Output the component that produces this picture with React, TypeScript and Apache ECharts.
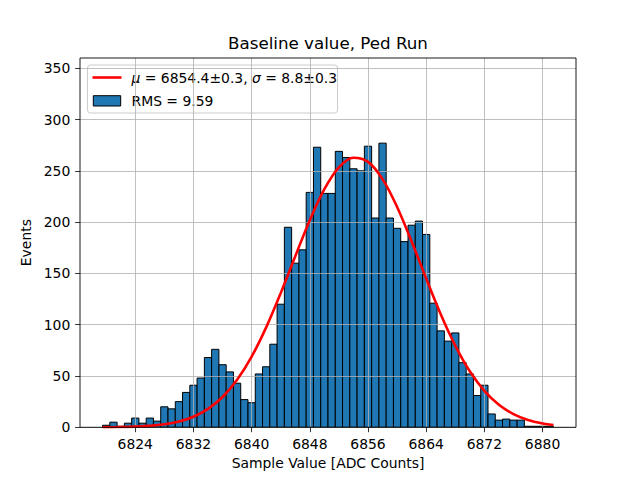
import React, { useEffect, useRef } from "react";
import * as echarts from "echarts";

// Histogram bins (centres, width 1 ADC count) and counts
const binCenters = [
  6820, 6821, 6822, 6823, 6824, 6825, 6826, 6827, 6828, 6829,
  6830, 6831, 6832, 6833, 6834, 6835, 6836, 6837, 6838, 6839,
  6840, 6841, 6842, 6843, 6844, 6845, 6846, 6847, 6848, 6849,
  6850, 6851, 6852, 6853, 6854, 6855, 6856, 6857, 6858, 6859,
  6860, 6861, 6862, 6863, 6864, 6865, 6866, 6867, 6868, 6869,
  6870, 6871, 6872, 6873, 6874, 6875, 6876, 6877, 6878, 6879,
  6880, 6881,
];
const counts = [
  2, 5, 1, 4, 9, 4, 9, 6, 20, 18,
  25, 34, 41, 48, 68, 76, 61, 54, 43, 27,
  24, 52, 59, 81, 120, 195, 160, 173, 229, 273,
  228, 228, 269, 263, 252, 250, 274, 204, 277, 204,
  194, 181, 197, 201, 188, 121, 94, 84, 92, 63,
  52, 31, 41, 13, 7, 8, 7, 7, 1, 1,
  1, 1,
];
const binHalfWidth = 0.5;

// Fit curve points
const fitX = [
  6819.5, 6820, 6822, 6824, 6826, 6828, 6830, 6832, 6834, 6836, 6838,
  6840, 6842, 6844, 6846, 6848, 6850, 6852, 6854, 6856, 6858,
  6860, 6862, 6864, 6866, 6868, 6870, 6872, 6874, 6876, 6878,
  6880, 6881.5,
];
const fitY = [
  0.1, 0.1, 0.3, 0.7, 1.4, 2.9, 5.6, 10.3, 17.9, 29.5, 46.3,
  68.9, 97.4, 130.8, 166.8, 201.9, 232.1, 253.4, 262.7, 258.7, 241.9,
  214.8, 181.1, 145.1, 110.3, 79.7, 54.6, 35.6, 22.0, 12.9, 7.2,
  3.8, 2.3,
];

const xTicks = [6824, 6832, 6840, 6848, 6856, 6864, 6872, 6880];
const yTicks = [0, 50, 100, 150, 200, 250, 300, 350];
const xRange = [6816.4, 6884.6];
const yRange = [0, 360];

const titleText = "Baseline value, Ped Run";
const xLabel = "Sample Value [ADC Counts]";
const yLabel = "Events";
const fitLegend = "{i|μ} = 6854.4±0.3, {i|σ} = 8.8±0.3";
const histLegend = "RMS = 9.59";

const FONT = "DejaVu Sans";
const GRID_COLOR = "#b0b0b0";

export default function App() {
  const ref = useRef<HTMLDivElement>(null);
  useEffect(() => {
    document.body.style.margin = "0";
    const chart = echarts.init(ref.current!, null, { renderer: "svg" });
    const histData = binCenters.map((c, i) => [c, counts[i]]);
    const fitData = fitX.map((x, i) => [x, fitY[i]]);
    chart.setOption({
      animation: false,
      backgroundColor: "#fff",
      grid: { left: 80, top: 58, width: 496, height: 369.3, show: false },
      xAxis: {
        type: "value",
        min: xRange[0],
        max: xRange[1],
        z: 3,
        name: xLabel,
        nameLocation: "middle",
        nameGap: 28,
        nameTextStyle: { fontFamily: FONT, fontSize: 13.9, color: "#000", verticalAlign: "top" },
        axisLine: { show: false },
        axisTick: {
          show: true,
          inside: false,
          length: 4.9,
          customValues: xTicks,
          lineStyle: { color: "#000", width: 0.8 },
        },
        axisLabel: {
          customValues: xTicks,
          margin: 9.7,
          fontFamily: FONT,
          fontSize: 13.9,
          color: "#000",
          formatter: (v: number) => String(v),
        },
        splitLine: { show: false },
      },
      yAxis: {
        type: "value",
        min: yRange[0],
        max: yRange[1],
        z: 3,
        name: yLabel,
        nameLocation: "middle",
        nameGap: 36,
        nameRotate: 90,
        nameTextStyle: { fontFamily: FONT, fontSize: 13.9, color: "#000" },
        axisLine: { show: false },
        axisTick: {
          show: true,
          inside: false,
          length: 4.9,
          customValues: yTicks,
          lineStyle: { color: "#000", width: 0.8 },
        },
        axisLabel: {
          customValues: yTicks,
          margin: 9.7,
          fontFamily: FONT,
          fontSize: 13.9,
          color: "#000",
        },
        splitLine: { show: true, lineStyle: { color: GRID_COLOR, width: 0.8 } },
      },
      series: [
        {
          type: "custom",
          name: histLegend,
          z: 2,
          data: histData,
          renderItem: (params: any, api: any) => {
            const c = api.value(0);
            const v = api.value(1);
            const p0 = api.coord([c - binHalfWidth, v]);
            const p1 = api.coord([c + binHalfWidth, 0]);
            return {
              type: "rect",
              shape: { x: p0[0], y: p0[1], width: p1[0] - p0[0], height: p1[1] - p0[1] },
              style: { fill: "#1f77b4", stroke: "#000", lineWidth: 1 },
            };
          },
          markLine: {
            silent: true,
            z: 3,
            symbol: ["none", "none"],
            label: { show: false },
            lineStyle: { color: GRID_COLOR, width: 0.8, type: "solid" },
            emphasis: { disabled: true },
            data: xTicks.map((t) => ({ xAxis: t })),
          },
        },
        {
          type: "line",
          name: "fit",
          z: 6,
          data: fitData,
          smooth: 0.35,
          showSymbol: false,
          symbol: "none",
          lineStyle: { color: "#ff0000", width: 2.6 },
        },
      ],
      graphic: [
        {
          type: "text",
          x: 328,
          y: 43.3,
          style: {
            text: titleText,
            fontFamily: FONT,
            fontSize: 16.7,
            fill: "#000",
            textAlign: "center",
            textVerticalAlign: "middle",
          },
        },
        {
          type: "rect",
          z: 10,
          shape: { x: 80, y: 58, width: 496, height: 369.3 },
          style: { fill: "none", stroke: "#000", lineWidth: 0.9 },
          silent: true,
        },
        {
          type: "group",
          z: 11,
          children: [
            {
              type: "rect",
              shape: { x: 87.5, y: 65, width: 250, height: 48, r: 3 },
              style: { fill: "rgba(255,255,255,0.8)", stroke: "#cccccc", lineWidth: 1 },
            },
            {
              type: "line",
              shape: { x1: 92.5, y1: 77.5, x2: 121.5, y2: 77.5 },
              style: { stroke: "#ff0000", lineWidth: 2.6 },
            },
            {
              type: "text",
              x: 131.5,
              y: 77.5,
              style: {
                text: fitLegend,
                fontFamily: FONT,
                fontSize: 13.9,
                fill: "#000",
                textVerticalAlign: "middle",
                rich: {
                  i: { fontFamily: FONT, fontSize: 13.9, fontStyle: "italic", fill: "#000" },
                },
              },
            },
            {
              type: "rect",
              shape: { x: 93.3, y: 95.7, width: 27.4, height: 10.3 },
              style: { fill: "#1f77b4", stroke: "#000", lineWidth: 1 },
            },
            {
              type: "text",
              x: 131.5,
              y: 100.8,
              style: {
                text: histLegend,
                fontFamily: FONT,
                fontSize: 13.9,
                fill: "#000",
                textVerticalAlign: "middle",
              },
            },
          ],
        },
      ],
    });
    return () => chart.dispose();
  }, []);
  return <div ref={ref} style={{ width: 640, height: 480 }} />;
}
